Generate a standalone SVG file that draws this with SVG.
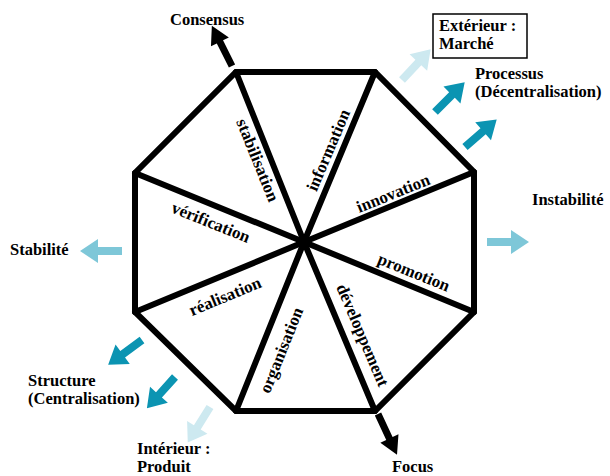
<svg xmlns="http://www.w3.org/2000/svg" xmlns:xlink="http://www.w3.org/1999/xlink" width="610" height="476" viewBox="0 0 610 476">
<style>
text{font-family:"Liberation Serif","Times New Roman",serif;font-weight:bold;fill:#000;}
.lbl{font-size:16.5px;}
.seg{font-size:17px;text-anchor:middle;}
.teal{fill:#0b94b2;}
.light{fill:#cde9f0;}
.mid{fill:#7ec7d8;}
</style>
<defs>
<path id="arr" d="M0,-4 L24,-4 L24,-12 L42,0 L24,12 L24,4 L0,4 Z"/>
<path id="barr" d="M0,-3.5 L27,-3.5 L27,-10 L45,0 L27,10 L27,3.5 L0,3.5 Z"/>
</defs>
<rect width="610" height="476" fill="#fff"/>
<g id="octagon">
<polygon points="236,72 375,72 474,172 474,312 375,411 236,411 135,312 135,173" fill="none" stroke="#000" stroke-width="6" stroke-linejoin="miter"/>
</g>
<g id="connectors" stroke="#000" stroke-width="6" stroke-linecap="round">
<line x1="304" y1="242" x2="236" y2="72"/>
<line x1="304" y1="242" x2="375" y2="72"/>
<line x1="304" y1="242" x2="474" y2="172"/>
<line x1="304" y1="242" x2="474" y2="312"/>
<line x1="304" y1="242" x2="375" y2="411"/>
<line x1="304" y1="242" x2="236" y2="411"/>
<line x1="304" y1="242" x2="135" y2="312"/>
<line x1="304" y1="242" x2="135" y2="173"/>
</g>
<g id="segment-labels">
<text class="seg" transform="translate(258,160) rotate(68)" dy="0.35em">stabilisation</text>
<text class="seg" transform="translate(328,150) rotate(-67)" dy="0.35em">information</text>
<text class="seg" transform="translate(393,193) rotate(-22)" dy="0.35em">innovation</text>
<text class="seg" transform="translate(414,272) rotate(22)" dy="0.35em">promotion</text>
<text class="seg" transform="translate(363,335) rotate(67)" dy="0.35em">développement</text>
<text class="seg" transform="translate(281,350) rotate(-68)" dy="0.35em">organisation</text>
<text class="seg" transform="translate(225,296) rotate(-22.5)" dy="0.35em">réalisation</text>
<text class="seg" transform="translate(211,222) rotate(22)" dy="0.35em">vérification</text>
</g>
<g id="arrows">
<use xlink:href="#barr" transform="translate(232,66) rotate(-116.6)"/>
<use xlink:href="#barr" transform="translate(378,414) rotate(65)"/>
<use xlink:href="#arr" class="light" transform="translate(402,80) rotate(-47)"/>
<use xlink:href="#arr" class="teal" transform="translate(435,112) rotate(-45)"/>
<use xlink:href="#arr" class="teal" transform="translate(465,147) rotate(-41)"/>
<use xlink:href="#arr" class="mid" transform="translate(122,251) rotate(180)"/>
<use xlink:href="#arr" class="mid" transform="translate(487,242)"/>
<use xlink:href="#arr" class="teal" transform="translate(142,340) rotate(143.7)"/>
<use xlink:href="#arr" class="teal" transform="translate(175,377) rotate(132)"/>
<use xlink:href="#arr" class="light" transform="translate(210,407) rotate(122)"/>
</g>
<g id="consensus"><text class="lbl" x="170" y="25">Consensus</text></g>
<g id="exterieur">
<rect x="433" y="14" width="94" height="44" fill="#fff" stroke="#000" stroke-width="1.5"/>
<text class="lbl" x="439" y="31">Extérieur :</text>
<text class="lbl" x="439" y="49">Marché</text>
</g>
<g id="processus">
<text class="lbl" x="475" y="79">Processus</text>
<text class="lbl" x="475" y="97">(Décentralisation)</text>
</g>
<g id="instabilite"><text class="lbl" x="532" y="205">Instabilité</text></g>
<g id="stabilite"><text class="lbl" x="10" y="255">Stabilité</text></g>
<g id="structure">
<text class="lbl" x="28" y="386">Structure</text>
<text class="lbl" x="28" y="404">(Centralisation)</text>
</g>
<g id="interieur">
<text class="lbl" x="137" y="454">Intérieur :</text>
<text class="lbl" x="137" y="472">Produit</text>
</g>
<g id="focus"><text class="lbl" x="392" y="472">Focus</text></g>
</svg>
